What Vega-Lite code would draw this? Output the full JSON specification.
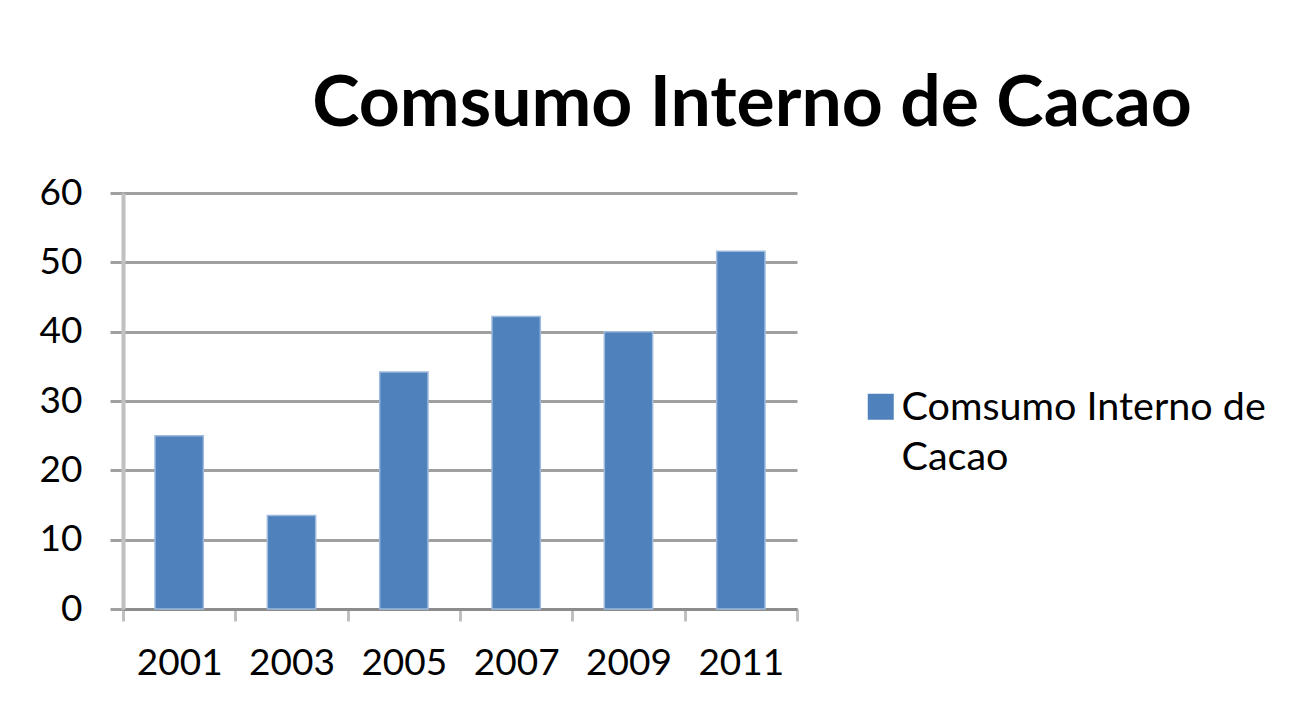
{
  "$schema": "https://vega.github.io/schema/vega-lite/v6.json",
  "autosize": "none",
  "width": 674,
  "height": 416,
  "padding": {"left": 123, "top": 193, "right": 510, "bottom": 102},
  "background": "white",
  "title": {
    "text": "Comsumo Interno de Cacao",
    "font": "Lato",
    "fontWeight": "bold",
    "fontSize": 71.5,
    "color": "#000000",
    "anchor": "middle",
    "frame": "group",
    "dx": 292,
    "offset": 33
  },
  "data": {
    "values": [
      {"year": "2001", "serie": "Comsumo Interno de Cacao", "value": 25},
      {"year": "2003", "serie": "Comsumo Interno de Cacao", "value": 13.5},
      {"year": "2005", "serie": "Comsumo Interno de Cacao", "value": 34.2},
      {"year": "2007", "serie": "Comsumo Interno de Cacao", "value": 42.2},
      {"year": "2009", "serie": "Comsumo Interno de Cacao", "value": 40},
      {"year": "2011", "serie": "Comsumo Interno de Cacao", "value": 51.6}
    ]
  },
  "mark": {"type": "bar", "color": "#4F81BD", "stroke": "#9DB9DC", "strokeWidth": 1.5, "width": {"band": 0.43}},
  "encoding": {
    "x": {
      "field": "year",
      "type": "nominal",
      "scale": {"paddingInner": 0, "paddingOuter": 0},
      "axis": {
        "title": null,
        "labelAngle": 0,
        "tickBand": "extent",
        "domainColor": "#8C8C8C",
        "domainWidth": 3,
        "tickColor": "#C0C0C0",
        "tickWidth": 3,
        "tickSize": 12,
        "labelPadding": 24,
        "labelFont": "Lato",
        "labelFontSize": 37,
        "labelColor": "#000000",
        "grid": false
      }
    },
    "y": {
      "field": "value",
      "type": "quantitative",
      "scale": {"domain": [0, 60], "nice": false},
      "axis": {
        "title": null,
        "values": [0, 10, 20, 30, 40, 50, 60],
        "grid": true,
        "gridColor": "#A0A0A0",
        "gridWidth": 3,
        "domainColor": "#C0C0C0",
        "domainWidth": 4,
        "tickColor": "#A0A0A0",
        "tickWidth": 3,
        "tickSize": 13,
        "labelPadding": 28,
        "labelFont": "Lato",
        "labelFontSize": 37,
        "labelColor": "#000000"
      }
    },
    "color": {
      "field": "serie",
      "type": "nominal",
      "scale": {"range": ["#4F81BD"]},
      "legend": {
        "title": null,
        "orient": "none",
        "legendX": 738,
        "legendY": 207,
        "symbolType": "M-1,-2H1V0H-1Z",
        "symbolSize": 676,
        "symbolStrokeWidth": 0,
        "labelFont": "Lato",
        "labelFontSize": 39.5,
        "labelColor": "#000000",
        "labelLimit": 700,
        "labelOffset": 1,
        "labelBaseline": "alphabetic",
        "labelExpr": "['Comsumo Interno de', 'Cacao']"
      }
    }
  },
  "config": {
    "view": {"stroke": null},
    "style": {"guide-label": {"lineHeight": 50}}
  }
}
